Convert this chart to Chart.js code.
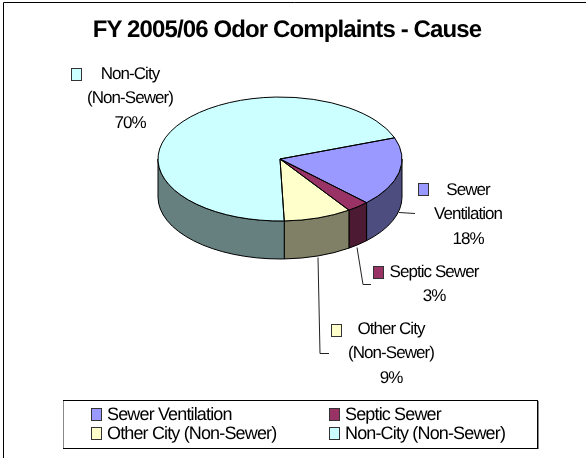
<!DOCTYPE html>
<html lang="en">
<head>
    <meta charset="utf-8" />
    <title>FY 2005/06 Odor Complaints - Cause</title>
    <style>
        body { margin: 0; background: #fff; }
        canvas { display: block; }
    </style>
</head>
<body>
    <canvas id="myChart" width="586" height="458"></canvas>
    <script src="https://cdn.jsdelivr.net/npm/chart.js@4"></script>
    <script>
        var chartTitle = "FY 2005/06 Odor Complaints - Cause";
        var categories = ["Sewer Ventilation", "Septic Sewer", "Other City (Non-Sewer)", "Non-City (Non-Sewer)"];
        var values = [18, 3, 9, 70];
        var labelLines = [["Sewer", "Ventilation"], ["Septic Sewer"], ["Other City", "(Non-Sewer)"], ["Non-City", "(Non-Sewer)"]];
        var topColors = ["#9999ff", "#993366", "#ffffcc", "#ccffff"];
        var sideColors = ["#4d4d80", "#4d1a33", "#808066", "#668080"];

        var FONT = '"Liberation Sans"';
        var SQUASH = 0.508;   // ellipse height / width
        var DEPTH = 38;       // height of the pie wall

        // callout text placement, same order as categories
        var callouts = [
            { box: [418, 183], x: 468, y: 190, leader: [[399, 212], [415, 213]] },
            { box: [373, 266], x: 434, y: 272, leader: [[357, 247], [363, 284], [371, 284]] },
            { box: [331, 324], x: 391, y: 329, leader: [[318, 257], [320, 353], [329, 353]] },
            { box: [71, 68], x: 130, y: 74, leader: [] }
        ];
        var legendSlots = [[91, 415], [329, 415], [91, 434], [329, 434]];

        function swatch(ctx, x, y, color) {
            ctx.fillStyle = color;
            ctx.fillRect(x, y, 11, 13);
            ctx.strokeStyle = "#333";
            ctx.lineWidth = 1;
            ctx.strokeRect(x + 0.5, y + 0.5, 10, 12);
        }

        var pie3d = {
            id: "pie3d",
            afterLayout: function (chart) {
                // title is centred on the frame, not on the pie
                chart.titleBlock.left = 0;
                chart.titleBlock.right = 574;
            },
            beforeDraw: function (chart) {
                var ctx = chart.ctx;
                ctx.textRendering = "geometricPrecision";
                ctx.fillStyle = "#fff";
                ctx.fillRect(0, 0, chart.width, chart.height);
                // frame runs off the right and bottom of the picture
                ctx.strokeStyle = "#000";
                ctx.lineWidth = 1;
                ctx.beginPath();
                ctx.moveTo(586, 2.5);
                ctx.lineTo(3.5, 2.5);
                ctx.lineTo(3.5, 458);
                ctx.stroke();
                ctx.letterSpacing = "-0.88px";
            },
            beforeDatasetsDraw: function (chart) {
                var ctx = chart.ctx;
                ctx.letterSpacing = "0px";
                var arcs = chart.getDatasetMeta(0).data;
                ctx.save();
                ctx.strokeStyle = "#000";
                ctx.lineWidth = 1;
                // walls, only the part of each slice that faces the viewer
                arcs.forEach(function (arc, i) {
                    var from = Math.max(arc.startAngle, 0);
                    var to = Math.min(arc.endAngle, Math.PI);
                    if (to <= from) return;
                    var r = arc.outerRadius;
                    ctx.beginPath();
                    ctx.ellipse(arc.x, arc.y, r, r * SQUASH, 0, from, to);
                    ctx.ellipse(arc.x, arc.y + DEPTH, r, r * SQUASH, 0, to, from, true);
                    ctx.closePath();
                    ctx.fillStyle = sideColors[i];
                    ctx.fill();
                    ctx.stroke();
                });
                ctx.restore();
                var c = arcs[0];
                ctx.save();
                ctx.translate(c.x, c.y);
                ctx.scale(1, SQUASH);
                ctx.translate(-c.x, -c.y);
            },
            afterDatasetsDraw: function (chart) {
                var ctx = chart.ctx;
                ctx.restore();
                var arcs = chart.getDatasetMeta(0).data;
                ctx.strokeStyle = "#000";
                ctx.lineWidth = 1;
                arcs.forEach(function (arc) {
                    var r = arc.outerRadius;
                    ctx.beginPath();
                    ctx.moveTo(arc.x, arc.y);
                    ctx.ellipse(arc.x, arc.y, r, r * SQUASH, 0, arc.startAngle, arc.endAngle);
                    ctx.closePath();
                    ctx.stroke();
                });
                drawCallouts(ctx);
                drawLegend(ctx);
            }
        };

        function drawCallouts(ctx) {
            var total = values.reduce(function (a, b) { return a + b; }, 0);
            ctx.font = "17px " + FONT;
            ctx.letterSpacing = "-0.95px";
            ctx.textAlign = "center";
            ctx.textBaseline = "middle";
            callouts.forEach(function (c, i) {
                if (c.leader.length) {
                    ctx.strokeStyle = "#222";
                    ctx.lineWidth = 1;
                    ctx.beginPath();
                    c.leader.forEach(function (p, k) {
                        if (k === 0) ctx.moveTo(p[0], p[1] + 0.5);
                        else ctx.lineTo(p[0], p[1] + 0.5);
                    });
                    ctx.stroke();
                }
                swatch(ctx, c.box[0], c.box[1], topColors[i]);
                ctx.fillStyle = "#000";
                var lines = labelLines[i].concat(Math.round(values[i] / total * 100) + "%");
                lines.forEach(function (line, k) {
                    ctx.fillText(line, c.x, c.y + k * 24.5);
                });
            });
            ctx.letterSpacing = "0px";
        }

        function drawLegend(ctx) {
            ctx.strokeStyle = "#000";
            ctx.lineWidth = 1;
            ctx.strokeRect(63.5, 400.5, 474, 48);
            // soft grey edge on the box sides
            ctx.strokeStyle = "#888";
            ctx.beginPath();
            ctx.moveTo(63.5, 401);
            ctx.lineTo(63.5, 448);
            ctx.moveTo(538.5, 401);
            ctx.lineTo(538.5, 449);
            ctx.stroke();
            ctx.font = "18px " + FONT;
            ctx.letterSpacing = "-0.85px";
            ctx.textAlign = "left";
            ctx.textBaseline = "middle";
            categories.forEach(function (name, i) {
                var s = legendSlots[i];
                swatch(ctx, s[0], s[1] - 7, topColors[i]);
                ctx.fillStyle = "#000";
                ctx.fillText(name, s[0] + 16, s[1]);
            });
            ctx.letterSpacing = "0px";
        }

        new Chart(document.getElementById("myChart"), {
            type: "pie",
            data: {
                labels: categories,
                datasets: [{
                    data: values,
                    backgroundColor: topColors,
                    borderWidth: 0
                }]
            },
            options: {
                responsive: false,
                animation: false,
                rotation: 70,
                layout: { padding: { left: 158, right: 184, top: 0, bottom: 177 } },
                plugins: {
                    legend: { display: false },
                    tooltip: { enabled: false },
                    title: {
                        display: true,
                        text: chartTitle,
                        color: "#000",
                        font: { family: FONT, size: 24, weight: "bold", lineHeight: 1.2 },
                        padding: { top: 16, bottom: -7.8 }
                    }
                }
            },
            plugins: [pie3d]
        });
    </script>
</body>
</html>
